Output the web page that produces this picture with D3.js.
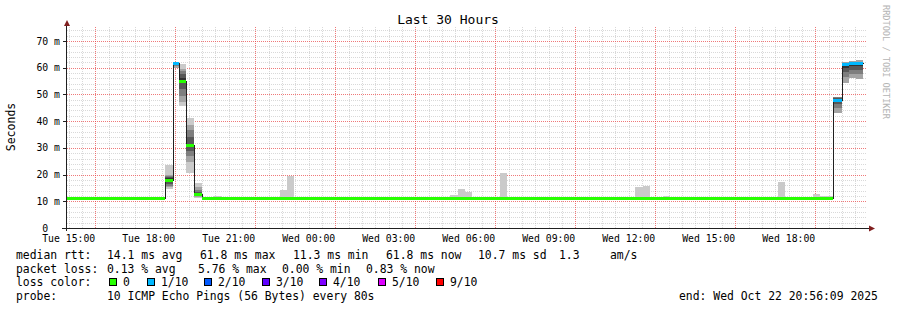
<!DOCTYPE html>
<html>
<head>
<meta charset="utf-8">
<script src="https://cdn.jsdelivr.net/npm/d3@7"></script>
<style>
  body { margin: 0; background: #fff; }
  svg text { font-family: "DejaVu Sans Mono", monospace; fill: #000; white-space: pre; }
</style>
</head>
<body>
<svg id="chart" width="897" height="310"></svg>
<script>
// ---- data ----
const chartTitle = 'Last 30 Hours';
const rangeStart = '2025-10-21T14:56:09Z';
const rangeEnd = '2025-10-22T20:56:09Z';
const yTickValues = [0, 10, 20, 30, 40, 50, 60, 70];

// consolidated bins: edges, median rtt (ms), lost pings of 10, sorted ping rtts (ms)
const binEdges = [
  '2025-10-21T14:56:09Z', '2025-10-21T18:37Z', '2025-10-21T18:55Z', '2025-10-21T19:09Z',
  '2025-10-21T19:25Z', '2025-10-21T19:42Z', '2025-10-21T19:59Z', '2025-10-21T20:25Z',
  '2025-10-21T20:45Z', '2025-10-21T22:55Z', '2025-10-21T23:12Z', '2025-10-21T23:27Z',
  '2025-10-22T05:18Z', '2025-10-22T05:36Z', '2025-10-22T05:52Z', '2025-10-22T06:07Z',
  '2025-10-22T07:10Z', '2025-10-22T07:26Z', '2025-10-22T12:14Z', '2025-10-22T12:32Z',
  '2025-10-22T12:48Z', '2025-10-22T13:17Z', '2025-10-22T13:33Z', '2025-10-22T17:36Z',
  '2025-10-22T17:52Z', '2025-10-22T18:55Z', '2025-10-22T19:10Z', '2025-10-22T19:40Z',
  '2025-10-22T19:59Z', '2025-10-22T20:16Z', '2025-10-22T20:32Z', '2025-10-22T20:47Z'
];
const medianRtt = [
  11.3, 18.0, 61.8, 55.2, 31.0, 12.9, 11.3, 11.3, 11.3, 11.3, 11.3, 11.3, 11.3, 11.3, 11.3, 11.3,
  11.3, 11.3, 11.3, 11.3, 11.3, 11.3, 11.3, 11.3, 11.3, 11.3, 11.3, 48.0, 61.4, 61.7, 61.8
];
const lostPings = [
  0, 0, 1, 0, 0, 0, 0, 0, 0, 0, 0, 0, 0, 0, 0, 0,
  0, 0, 0, 0, 0, 0, 0, 0, 0, 0, 0, 1, 1, 1, 1
];
const quietPings = [11.2, 11.2, 11.3, 11.3, 11.3, 11.3, 11.3, 11.3, 11.4, 11.4];
const pingRtt = [
  quietPings,
  [14.6, 15.4, 15.8, 16.5, 17.5, 18.6, 19.0, 19.3, 20.0, 23.5],
  [59.0, 59.8, 60.6, 61.2, 61.8, 62.0, 62.1, 62.2, 62.3],
  [45.5, 47.2, 49.5, 52.0, 54.5, 56.0, 57.5, 58.8, 59.5, 61.3],
  [20.7, 24.8, 27.0, 29.0, 30.6, 31.4, 34.0, 36.7, 38.5, 41.1],
  [11.1, 11.5, 11.9, 12.3, 12.7, 13.1, 13.6, 14.4, 15.2, 16.7],
  quietPings,
  [11.2, 11.2, 11.3, 11.3, 11.3, 11.3, 11.3, 11.3, 11.4, 11.9],
  quietPings,
  [11.2, 11.2, 11.3, 11.3, 11.3, 11.3, 11.3, 11.3, 11.4, 14.2],
  [11.2, 11.2, 11.3, 11.3, 11.3, 11.3, 11.3, 11.3, 11.4, 19.6],
  quietPings,
  [11.2, 11.2, 11.3, 11.3, 11.3, 11.3, 11.3, 11.3, 11.4, 12.4],
  [11.2, 11.2, 11.3, 11.3, 11.3, 11.3, 11.3, 11.3, 11.4, 14.6],
  [11.2, 11.2, 11.3, 11.3, 11.3, 11.3, 11.3, 11.3, 11.4, 13.6],
  quietPings,
  [11.2, 11.2, 11.3, 11.3, 11.3, 11.3, 11.3, 11.3, 11.4, 20.7],
  quietPings,
  [11.2, 11.2, 11.3, 11.3, 11.3, 11.3, 11.3, 11.3, 11.4, 15.2],
  [11.2, 11.2, 11.3, 11.3, 11.3, 11.3, 11.3, 11.3, 11.4, 15.8],
  quietPings,
  [11.2, 11.2, 11.3, 11.3, 11.3, 11.3, 11.3, 11.3, 11.4, 11.9],
  quietPings,
  [11.2, 11.2, 11.3, 11.3, 11.3, 11.3, 11.3, 11.3, 11.4, 17.3],
  quietPings,
  [11.2, 11.2, 11.3, 11.3, 11.3, 11.3, 11.3, 11.3, 11.4, 12.7],
  [11.2, 11.2, 11.3, 11.3, 11.3, 11.3, 11.3, 11.3, 11.4, 12.0],
  [42.5, 43.0, 44.8, 46.5, 47.9, 48.2, 48.5, 48.9, 49.2],
  [53.8, 54.2, 56.5, 58.5, 60.0, 60.5, 61.2, 61.8, 62.3],
  [55.5, 56.0, 57.5, 59.0, 60.5, 61.2, 61.7, 62.1, 62.5],
  [55.3, 55.8, 57.5, 59.2, 60.8, 61.5, 61.9, 62.3, 62.9]
];

const lossLevels = [0, 1, 2, 3, 4, 5, 9];
const lossLabels = ['0', '1/10', '2/10', '3/10', '4/10', '5/10', '9/10'];
const lossColors = ['#26ff00', '#00b8ff', '#0059ff', '#5e00ff', '#7e00ff', '#dd00ff', '#ff0000'];

const rttStats = ['14.1 ms avg', '61.8 ms max', '11.3 ms min', '61.8 ms now', '10.7 ms sd', '1.3', 'am/s'];
const lossStats = ['0.13 % avg', '5.76 % max', '0.00 % min', '0.83 % now'];
const probeText = '10 ICMP Echo Pings (56 Bytes) every 80s';
const endText = 'end: Wed Oct 22 20:56:09 2025';

// ---- layout ----
const svg = d3.select('#chart');
const plotLeft = 67, plotRight = 867, plotBottom = 228;

const x = d3.scaleUtc()
  .domain([d3.isoParse(rangeStart), d3.isoParse(rangeEnd)])
  .range([plotLeft, plotRight]);
const y = d3.scaleLinear().domain([0, 70]).range([plotBottom, 41]);
const plotTop = Math.round(y(75.3));

const px = v => Math.round(v) + 0.5;
const minorStroke = 'rgba(160,160,160,0.4)';
const majorStroke = 'rgba(232,64,64,0.7)';

// grid
const grid = svg.append('g').attr('shape-rendering', 'crispEdges').attr('stroke-dasharray', '1,1');
const minorY = d3.range(2, 75, 2).filter(v => v % 10 !== 0);
const majorY = d3.range(10, 75, 10);
grid.selectAll('.hmin').data(minorY).join('line')
  .attr('x1', plotLeft).attr('x2', plotRight)
  .attr('y1', d => px(y(d))).attr('y2', d => px(y(d)))
  .attr('stroke', minorStroke);

const halfHours = d3.utcMinute.every(30).range(...x.domain());
const majorX = halfHours.filter(d => d.getUTCMinutes() === 0 && d.getUTCHours() % 3 === 1);
const minorX = halfHours.filter(d => !majorX.includes(d));
grid.selectAll('.vmin').data(minorX).join('line')
  .attr('x1', d => px(x(d))).attr('x2', d => px(x(d)))
  .attr('y1', plotBottom).attr('y2', plotTop)
  .attr('stroke', minorStroke);
grid.selectAll('.hmaj').data(majorY).join('line')
  .attr('x1', plotLeft).attr('x2', plotRight)
  .attr('y1', d => px(y(d))).attr('y2', d => px(y(d)))
  .attr('stroke', majorStroke);
grid.selectAll('.vmaj').data(majorX).join('line')
  .attr('x1', d => px(x(d))).attr('x2', d => px(x(d)))
  .attr('y1', plotBottom).attr('y2', plotTop)
  .attr('stroke', majorStroke);

// bins
const bins = medianRtt.map((m, i) => ({
  t0: d3.isoParse(binEdges[i]),
  t1: d3.isoParse(binEdges[i + 1]),
  median: m,
  lost: lostPings[i],
  pings: pingRtt[i]
}));

// smoke: nested bands, outer light to inner dark
const smokeGreys = [202, 164, 126, 88, 50];
const smokeBands = bins.flatMap(b => smokeGreys.map((g, k) => ({
  b, g, lo: b.pings[k], hi: b.pings[9 - k]
}))).filter(d => d.lo != null && d.hi != null);

svg.append('g').attr('shape-rendering', 'crispEdges')
  .selectAll('rect').data(smokeBands).join('rect')
  .attr('x', d => Math.round(x(d.b.t0)))
  .attr('width', d => Math.round(x(d.b.t1)) - Math.round(x(d.b.t0)))
  .attr('y', d => Math.round(y(d.hi)))
  .attr('height', d => Math.max(0, Math.round(y(d.lo)) - Math.round(y(d.hi))))
  .attr('fill', d => d3.rgb(d.g, d.g, d.g));

// median as thin dark step line
const last = bins[bins.length - 1];
const medianPts = bins.map(b => [b.t0, b.median]).concat([[last.t1, last.median]]);
svg.append('path')
  .attr('d', d3.line()
    .x(d => px(x(d[0])))
    .y(d => px(y(d[1])))
    .curve(d3.curveStepAfter)(medianPts))
  .attr('fill', 'none')
  .attr('stroke', '#202020')
  .attr('stroke-width', 1)
  .attr('shape-rendering', 'crispEdges');

// median bands coloured by loss
const lossColor = n => lossColors[lossLevels.findIndex(l => l >= n)];
svg.append('g').attr('shape-rendering', 'crispEdges')
  .selectAll('rect').data(bins).join('rect')
  .attr('x', d => Math.round(x(d.t0)))
  .attr('width', d => Math.round(x(d.t1)) - Math.round(x(d.t0)))
  .attr('y', d => Math.round(y(d.median)) - 1)
  .attr('height', 3)
  .attr('fill', d => lossColor(d.lost));

// axes
const axes = svg.append('g').attr('shape-rendering', 'crispEdges');
axes.append('line')
  .attr('x1', 62).attr('x2', 870).attr('y1', plotBottom + 0.5).attr('y2', plotBottom + 0.5)
  .attr('stroke', '#202020');
axes.append('line')
  .attr('x1', plotLeft - 0.5).attr('x2', plotLeft - 0.5).attr('y1', plotBottom + 3).attr('y2', 25)
  .attr('stroke', '#202020');
axes.selectAll('.ytick').data(yTickValues).join('line')
  .attr('x1', plotLeft - 4).attr('x2', plotLeft)
  .attr('y1', d => px(y(d))).attr('y2', d => px(y(d)))
  .attr('stroke', '#202020');
svg.append('path').attr('d', 'M64,26 L70,26 L67,20 Z').attr('fill', '#801f1f');
svg.append('path').attr('d', `M869,${plotBottom - 2.5} L869,${plotBottom + 3.5} L875,${plotBottom + 0.5} Z`).attr('fill', '#801f1f');

// tick labels
svg.selectAll('.ylab').data(yTickValues).join('text')
  .attr('x', 60)
  .attr('y', d => y(d) + 3.5)
  .attr('text-anchor', 'end')
  .style('font-size', '9.8px')
  .text(d => d === 0 ? '0  ' : `${d} m`);

const fmt = d3.utcFormat('%a %H:%M');
svg.selectAll('.xlab').data(x.ticks(d3.utcHour.every(3))).join('text')
  .attr('x', d => x(d))
  .attr('y', 241.5)
  .attr('text-anchor', 'middle')
  .style('font-size', '9.8px')
  .text(fmt);

// titles
svg.append('text').attr('x', 448).attr('y', 23.5).attr('text-anchor', 'middle')
  .style('font-size', '13px').text(chartTitle);
svg.append('text').attr('transform', 'translate(15,127) rotate(-90)').attr('text-anchor', 'middle')
  .style('font-size', '11.5px').text('Seconds');
svg.append('text').attr('transform', 'translate(883,5) rotate(90)')
  .style('font-size', '8.6px').style('fill', '#b4b4b4').text('RRDTOOL / TOBI OETIKER');

// legend
const legendFont = '11.4px';
const addText = (tx, ty, s) => svg.append('text').attr('x', tx).attr('y', ty)
  .style('font-size', legendFont).text(s);

const row1 = 259, row2 = 272.5, row3 = 286, row4 = 300;
addText(16, row1, 'median rtt:');
[107, 200, 293, 386, 478, 559, 610].forEach((cx, i) => addText(cx, row1, rttStats[i]));
addText(16, row2, 'packet loss:');
[107, 198, 282, 366].forEach((cx, i) => addText(cx, row2, lossStats[i]));
addText(16, row3, 'loss color:');
const swatchX = [109, 147, 204, 262, 319, 378, 436];
lossLabels.forEach((lab, i) => {
  svg.append('rect')
    .attr('x', swatchX[i] + 0.5).attr('y', 278.5).attr('width', 7).attr('height', 7)
    .attr('fill', lossColors[i]).attr('stroke', '#000').attr('shape-rendering', 'crispEdges');
  addText(swatchX[i] + 14, row3, lab);
});
addText(16, row4, 'probe:');
addText(107, row4, probeText);
addText(679, row4, endText);
</script>
</body>
</html>
